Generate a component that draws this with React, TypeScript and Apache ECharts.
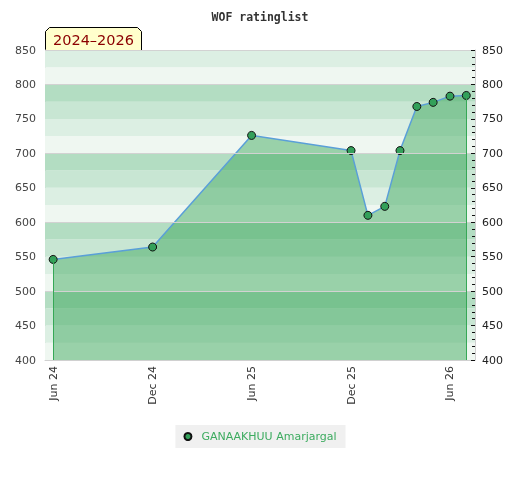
import React, { useEffect, useRef } from "react";
import * as echarts from "echarts";

const monthKeys = ["2024-06", "2024-12", "2025-06", "2025-12", "2026-01", "2026-02", "2026-03", "2026-04", "2026-05", "2026-06", "2026-07"];
const ratings = [546, 564, 726, 704, 610, 623, 704, 768, 774, 783, 784];
const tickMonths = ["2024-06", "2024-12", "2025-06", "2025-12", "2026-06"];
const seriesName = "GANAAKHUU Amarjargal";
const titleText = "WOF ratinglist";
const periodText = "2024–2026";
const monthNames = ["Jan", "Feb", "Mar", "Apr", "May", "Jun", "Jul", "Aug", "Sep", "Oct", "Nov", "Dec"];

const toTime = (k: string, day = 1) => {
  const [y, m] = k.split("-").map(Number);
  return Date.UTC(y, m - 1, day);
};

const Y_MIN = 400;
const Y_MAX = 850;
const bandColors = ["#eff7f1", "#dcefe3", "#c8e6d3", "#b3ddc2"];

export default function App() {
  const ref = useRef<HTMLDivElement>(null);
  useEffect(() => {
    if (!ref.current) return;
    const chart = echarts.init(ref.current, undefined, { renderer: "svg" });
    const times = monthKeys.map((k) => toTime(k));
    const data = times.map((t, i) => [t, ratings[i]]);
    const bands: any[] = [];
    for (let v = Y_MIN; v < Y_MAX; v += 25) {
      bands.push([
        { yAxis: v, itemStyle: { color: bandColors[(v % 100) / 25], opacity: 1 } },
        { yAxis: v + 25 },
      ]);
    }
    const last = times.length - 1;
    chart.setOption({
      animation: false,
      title: {
        text: titleText,
        left: "center",
        top: 6,
        textStyle: { fontFamily: "DejaVu Sans Mono", fontWeight: "bold", fontSize: 11.5, color: "#333" },
      },
      legend: {
        left: "center",
        top: 425,
        backgroundColor: "#f0f0f0",
        padding: [6, 9, 6, 8],
        icon: "circle",
        itemWidth: 7,
        itemHeight: 7,
        textStyle: { color: "#3cab5f", fontFamily: "DejaVu Sans", fontSize: 11, padding: [0, 0, 0, 5] },
        data: [seriesName],
      },
      grid: { left: 45, right: 45, top: 50, bottom: 120, containLabel: false },
      xAxis: {
        type: "value",
        min: toTime("2024-05", 17),
        max: toTime("2026-07", 17),
        splitLine: { show: false },
        axisTick: { show: false },
        axisLine: { show: true, lineStyle: { color: "#d0d0d0", width: 1 } },
        axisLabel: {
          customValues: tickMonths.map((k) => toTime(k)),
          rotate: 90,
          margin: 6,
          fontSize: 11,
          fontFamily: "DejaVu Sans",
          color: "#333",
          formatter: (val: number) => {
            const d = new Date(val);
            return monthNames[d.getUTCMonth()] + " " + String(d.getUTCFullYear()).slice(2);
          },
        },
      },
      yAxis: [
        {
          type: "value",
          min: Y_MIN,
          max: Y_MAX,
          interval: 50,
          position: "left",
          splitLine: { show: false },
          axisTick: { show: false },
          axisLine: { show: true, lineStyle: { color: "#d0d0d0", width: 1 } },
          axisLabel: { margin: 9, fontSize: 11, fontFamily: "DejaVu Sans", color: "#444" },
        },
        {
          type: "value",
          min: Y_MIN,
          max: Y_MAX,
          interval: 50,
          position: "right",
          z: 10,
          splitLine: { show: false },
          axisLine: { show: true, lineStyle: { color: "#d0d0d0", width: 1 } },
          axisTick: { show: true, inside: true, length: 4, lineStyle: { color: "#111" } },
          minorTick: { show: true, splitNumber: 5, length: 3, lineStyle: { color: "#111" } },
          axisLabel: { margin: 7, fontSize: 11, fontFamily: "DejaVu Sans", color: "#222" },
        },
      ],
      series: [
        {
          type: "line",
          name: "bands",
          z: 1,
          silent: true,
          data: data,
          symbol: "none",
          lineStyle: { opacity: 0 },
          markArea: { silent: true, data: bands },
          markLine: {
            silent: true,
            symbol: ["none", "none"],
            label: { show: false },
            lineStyle: { color: "#d2d2d2", width: 1, type: "solid" },
            data: [{ yAxis: 500 }, { yAxis: 600 }, { yAxis: 700 }, { yAxis: 800 }, { yAxis: 850 }],
          },
        },
        {
          type: "line",
          name: seriesName,
          z: 3,
          data: data,
          symbol: "circle",
          symbolSize: 8,
          itemStyle: { color: "#33a05a", borderColor: "#111", borderWidth: 1 },
          lineStyle: { color: "#5a9fd8", width: 1.5 },
          areaStyle: { color: "rgb(48,162,83)", opacity: 0.45, origin: "start" },
          markLine: {
            silent: true,
            symbol: ["none", "none"],
            label: { show: false },
            lineStyle: { color: "#36a856", width: 1, type: "solid" },
            data: [
              [{ coord: [times[0], ratings[0]] }, { coord: [times[0], Y_MIN] }],
              [{ coord: [times[last], ratings[last]] }, { coord: [times[last], Y_MIN] }],
            ],
          },
        },
      ],
      graphic: [
        {
          type: "group",
          left: 45,
          top: 27,
          children: [
            {
              type: "polygon",
              shape: { points: [[0, 23], [0, 4], [4, 0], [92, 0], [96, 4], [96, 23]] },
              style: { fill: "#ffffcc", stroke: "#000", lineWidth: 1 },
            },
            {
              type: "text",
              x: 48,
              y: 12.5,
              style: {
                text: periodText,
                fill: "#8b0000",
                font: "14.5px 'DejaVu Sans'",
                align: "center",
                verticalAlign: "middle",
              },
            },
          ],
        },
      ],
    });
    return () => chart.dispose();
  }, []);
  return <div ref={ref} style={{ position: "fixed", left: 0, top: 0, width: 520, height: 480 }} />;
}
